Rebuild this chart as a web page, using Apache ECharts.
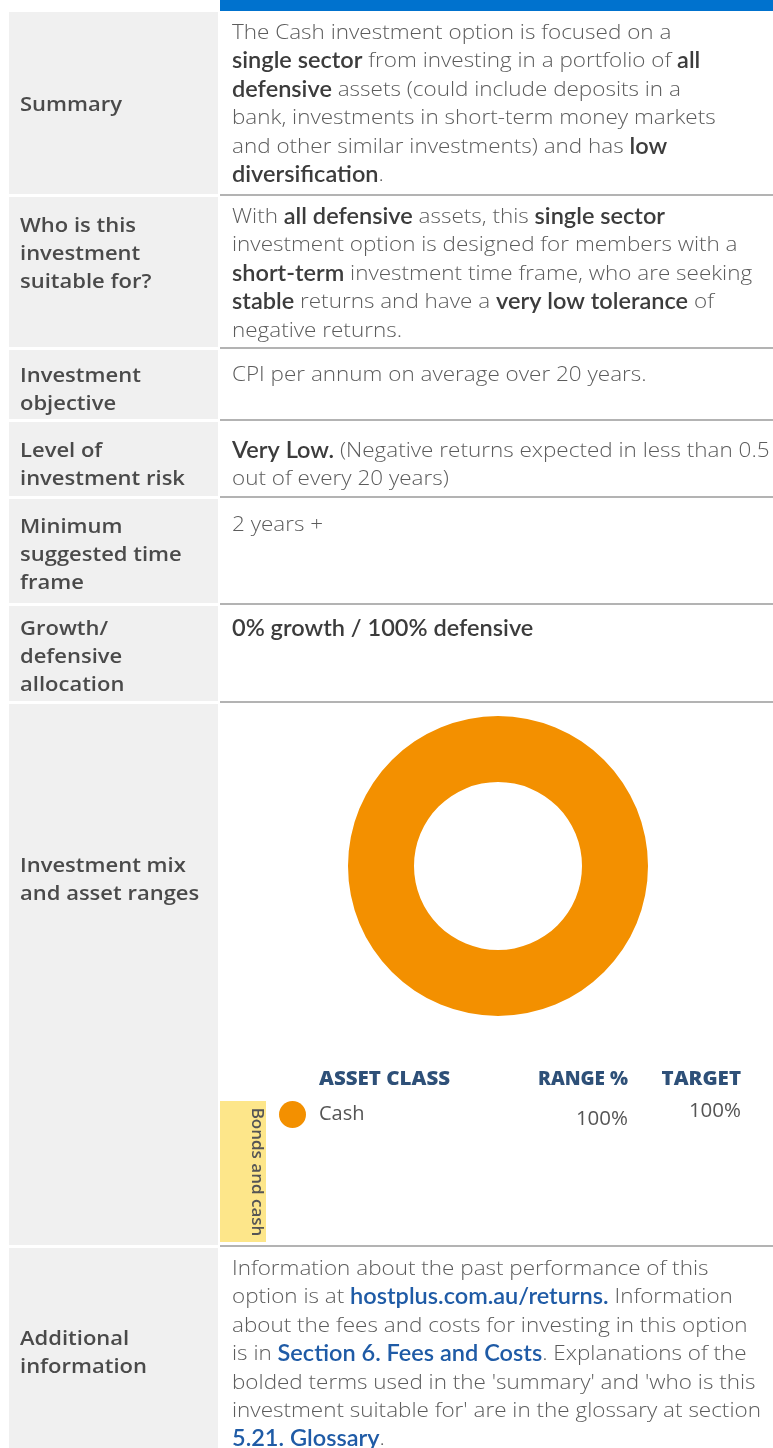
<!DOCTYPE html>
<html>
<head>
<meta charset="utf-8">
<title>Cash investment option</title>
<script src="https://cdn.jsdelivr.net/npm/echarts@6/dist/echarts.min.js"></script>
<style>
    html, body {
        margin: 0;
        padding: 0;
        background: #fff;
    }

    #chart {
        width: 773px;
        height: 1448px;
    }
</style>
</head>
<body>
<div id="chart"></div>
<script>
// row labels (left column)
const rowLabels = [
    'Summary',
    'Who is this\ninvestment\nsuitable for?',
    'Investment\nobjective',
    'Level of\ninvestment risk',
    'Minimum\nsuggested time\nframe',
    'Growth/\ndefensive\nallocation',
    'Investment mix\nand asset ranges',
    'Additional\ninformation',
];

// row texts (right column), {b|..} = bold, {l|..} = link
const rowTexts = [
    'The Cash investment option is focused on a\n' +
    '{b|single sector} from investing in a portfolio of {b|all}\n' +
    '{b|defensive} assets (could include deposits in a\n' +
    'bank, investments in short-term money markets\n' +
    'and other similar investments) and has {b|low}\n' +
    '{b|diversification}.',
    'With {b|all defensive} assets, this {b|single sector}\n' +
    'investment option is designed for members with a\n' +
    '{b|short-term} investment time frame, who are seeking\n' +
    '{b|stable} returns and have a {b|very low tolerance} of\n' +
    'negative returns.',
    'CPI per annum on average over 20 years.',
    '{b|Very Low.} (Negative returns expected in less than 0.5\n' +
    'out of every 20 years)',
    '2 years +',
    '{b|0% growth / 100% defensive}',
    '',
    'Information about the past performance of this\n' +
    'option is at {l|hostplus.com.au/returns.} Information\n' +
    'about the fees and costs for investing in this option\n' +
    'is in {l|Section 6. Fees and Costs}. Explanations of the\n' +
    'bolded terms used in the \'summary\' and \'who is this\n' +
    'investment suitable for\' are in the glossary at section\n' +
    '{l|5.21. Glossary}.',
];

// asset mix
const assetNames = ['Cash'];
const assetValues = [100];
const assetRanges = ['100%'];
const assetTargets = ['100%'];
const sectorName = 'Bonds and cash';
const tableHeaders = ['ASSET CLASS', 'RANGE %', 'TARGET'];

// layout: row top / bottom, first line of label and of text
const rowTop = [12, 197, 350, 422, 499, 606, 704, 1248];
const rowBottom = [194, 347, 419, 496, 603, 701, 1245, 1448];
const labelY = [105, 226, 376, 451, 527, 629, 866, 1339];
const textY = [33, 217, 375, 451, 525, 629, 0, 1269];

const FONT = '"Open Sans", Lato, sans-serif';
const BOLD_FONT = 'Lato, "Open Sans", sans-serif';
const LINE_H = 28.4;
const BODY_SIZE = 21;

const chart = echarts.init(document.getElementById('chart'), null, {renderer: 'canvas'});

function getGraphic() {
    const els = [];
    // blue header strip
    els.push({type: 'rect', shape: {x: 220, y: 0, width: 553, height: 11}, style: {fill: '#0072CE'}, silent: true});

    for (let i = 0; i < rowLabels.length; i++) {
        els.push({
            type: 'rect',
            shape: {x: 9, y: rowTop[i], width: 209, height: rowBottom[i] - rowTop[i]},
            style: {fill: '#F0F0F0'},
            silent: true,
        });
        if (i < rowLabels.length - 1) {
            els.push({
                type: 'rect',
                shape: {x: 220, y: rowBottom[i], width: 553, height: 2},
                style: {fill: '#B3B3B3'},
                silent: true,
            });
        }
        els.push({
            type: 'text',
            x: 20,
            y: labelY[i] - 14,
            scaleX: 1.1,
            style: {
                text: rowLabels[i],
                fontFamily: FONT,
                fontSize: 20,
                fontWeight: 600,
                fill: '#4A4A4A',
                lineHeight: 28,
                align: 'left',
                verticalAlign: 'top',
            },
            silent: true,
        });
        if (rowTexts[i]) {
            els.push({
                type: 'text',
                x: 232,
                y: textY[i] - LINE_H / 2,
                scaleX: 1.07,
                style: {
                    text: rowTexts[i],
                    fontFamily: FONT,
                    fontSize: BODY_SIZE,
                    fontWeight: 300,
                    fill: '#5C5C5C',
                    lineHeight: LINE_H,
                    align: 'left',
                    verticalAlign: 'top',
                    rich: {
                        b: {fontFamily: BOLD_FONT, fontSize: 22, fontWeight: 600, fill: '#3C3C3C', lineHeight: LINE_H},
                        l: {fontFamily: BOLD_FONT, fontSize: 22, fontWeight: 600, fill: '#1F5BA6', lineHeight: LINE_H},
                    },
                },
                silent: true,
            });
        }
    }

    // sector band
    els.push({type: 'rect', shape: {x: 220, y: 1101, width: 46, height: 141}, style: {fill: '#FDE68A'}, silent: true});
    els.push({
        type: 'text',
        x: 257,
        y: 1172,
        rotation: -Math.PI / 2,
        style: {
            text: sectorName,
            fontFamily: FONT,
            fontSize: 17,
            fontWeight: 600,
            fill: '#555',
            align: 'center',
            verticalAlign: 'middle',
        },
        silent: true,
    });

    // table headers
    const headX = [319, 628, 741];
    const headAlign = ['left', 'right', 'right'];
    tableHeaders.forEach((h, k) => {
        els.push({
            type: 'text',
            x: headX[k],
            y: 1080,
            scaleX: k === 1 ? 1 : 1.08,
            style: {
                text: h,
                fontFamily: FONT,
                fontSize: 19,
                fontWeight: 800,
                fill: '#2E5078',
                align: headAlign[k],
                verticalAlign: 'middle',
            },
            silent: true,
        });
    });
    assetNames.forEach((name, k) => {
        els.push({
            type: 'text', x: 628, y: 1119 + k * 40,
            style: {text: assetRanges[k], fontFamily: FONT, fontSize: 20.5, fontWeight: 400, fill: '#555', align: 'right', verticalAlign: 'middle'},
            silent: true,
        });
        els.push({
            type: 'text', x: 741, y: 1111 + k * 40,
            style: {text: assetTargets[k], fontFamily: FONT, fontSize: 20.5, fontWeight: 400, fill: '#555', align: 'right', verticalAlign: 'middle'},
            silent: true,
        });
    });
    return els;
}

const option = {
    animation: false,
    color: ['#F39000'],
    legend: {
        orient: 'vertical',
        left: 279,
        top: 1101,
        padding: 0,
        icon: 'circle',
        itemWidth: 27,
        itemHeight: 27,
        selectedMode: false,
        data: assetNames,
        textStyle: {
            fontFamily: FONT,
            fontSize: 20,
            fontWeight: 400,
            color: '#555',
            padding: [0, 0, 9, 8],
        },
    },
    graphic: {elements: getGraphic()},
    series: [
        {
            name: 'Investment mix',
            type: 'pie',
            center: [498, 866],
            radius: [84, 150],
            silent: true,
            label: {show: false},
            labelLine: {show: false},
            data: assetNames.map((name, k) => ({name: name, value: assetValues[k]})),
        },
    ],
};
chart.setOption(option);
</script>
</body>
</html>
